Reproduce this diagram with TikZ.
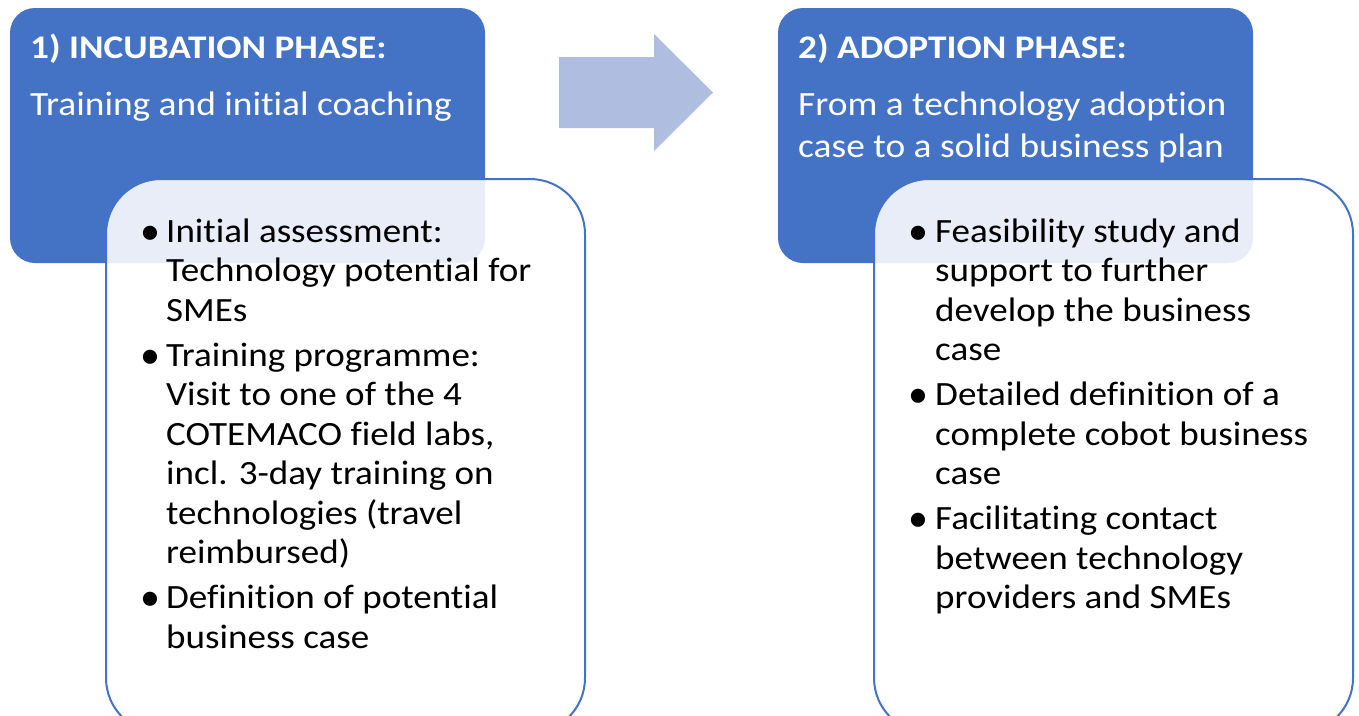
\documentclass[tikz,border=0pt]{standalone}
\usepackage{fontspec}
\setmainfont{Carlito}[Ligatures=CommonOff]
\newfontfamily\bodyfont{Carlito}[FakeStretch=1.09, Ligatures=CommonOff]
\newfontfamily\subfont{Carlito}[FakeStretch=1.10, Ligatures=CommonOff]
\newfontfamily\ttlfont{Carlito}[FakeStretch=1.13, Ligatures=CommonOff]
\definecolor{blu}{HTML}{4472C4}
\definecolor{arr}{RGB}{175,190,224}
\begin{document}
\begin{tikzpicture}[x=1pt,y=-1pt,
 phase/.style={draw=none, fill=blu, rounded corners=25pt, inner sep=0pt},
 detail/.style={draw=blu, line width=2pt, fill=white, fill opacity=0.88, rounded corners=55pt, inner sep=0pt},
 ttl/.style={anchor=base west, inner sep=0pt, text=white, font=\ttlfont\fontsize{33}{40}\selectfont\bfseries},
 sub/.style={anchor=base west, inner sep=0pt, text=white, font=\subfont\fontsize{34}{42}\selectfont},
 body/.style={anchor=base west, inner sep=0pt, font=\bodyfont\fontsize{34}{40}\selectfont},
 bul/.style={anchor=base, inner sep=0pt, yshift=-2pt, font=\setmainfont{Carlito}\fontsize{40}{46}\selectfont}]
\useasboundingbox (0,0) rectangle (1359,715);
\clip (0,0) rectangle (1359,715);
% blue phase boxes
\node[phase, minimum width=475pt, minimum height=255pt] (p1) at (247.5,135.5) {};
\node[phase, minimum width=475pt, minimum height=255pt] (p2) at (1015.5,135.5) {};
% detail boxes
\node[detail, minimum width=479pt, minimum height=554pt] (d1) at (345.5,456) {};
\node[detail, minimum width=479pt, minimum height=554pt] (d2) at (1113.5,456) {};
% arrow
\fill[arr] (559,57) -- (654,57) -- (654,34) -- (713,92.5) -- (654,151) -- (654,128) -- (559,128) -- cycle;
% titles
\node[ttl] (t1) at (30,58) {1) INCUBATION PHASE:};
\node[sub] (s1) at (30,115) {Training and initial coaching};
\node[ttl] (t2) at (798,58) {2) ADOPTION PHASE:};
\node[sub] (s2a) at (798,115) {From a technology adoption};
\node[sub] (s2b) at (798,157) {case to a solid business plan};
% left bullets
\node[bul] (b11) at (150,242) {•};
\node[body] (l1) at (166,242) {Initial assessment:};
\node[body] (l2) at (166,281.5) {Technology potential for};
\node[body] (l3) at (166,321) {SMEs};
\node[bul] (b12) at (150,366) {•};
\node[body] (l4) at (166,366) {Training programme:};
\node[body] (l5) at (166,405.5) {Visit to one of the 4};
\node[body] (l6) at (166,445) {COTEMACO field labs,};
\node[body] (l7) at (166,484.5) {incl. 3-day training on};
\node[body] (l8) at (166,524) {technologies (travel};
\node[body] (l9) at (166,563.5) {reimbursed)};
\node[bul] (b13) at (150,608.5) {•};
\node[body] (l10) at (166,608.5) {Definition of potential};
\node[body] (l11) at (166,648) {business case};
% right bullets
\node[bul] (b21) at (918,242) {•};
\node[body] (r1) at (935,242) {Feasibility study and};
\node[body] (r2) at (935,281.5) {support to further};
\node[body] (r3) at (935,321) {develop the business};
\node[body] (r4) at (935,360.5) {case};
\node[bul] (b22) at (918,405.5) {•};
\node[body] (r5) at (935,405.5) {Detailed definition of a};
\node[body] (r6) at (935,445) {complete cobot business};
\node[body] (r7) at (935,484.5) {case};
\node[bul] (b23) at (918,529.5) {•};
\node[body] (r8) at (935,529.5) {Facilitating contact};
\node[body] (r9) at (935,569) {between technology};
\node[body] (r10) at (935,608.5) {providers and SMEs};
\end{tikzpicture}
\end{document}
